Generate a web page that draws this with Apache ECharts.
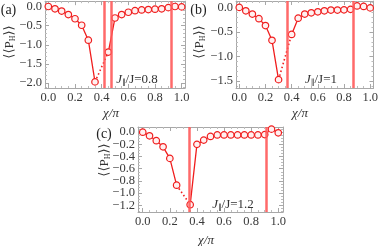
<!DOCTYPE html>
<html><head><meta charset="utf-8">
<script src="https://cdn.jsdelivr.net/npm/echarts@6/dist/echarts.min.js"></script>
<style>html,body{margin:0;padding:0;background:#fff}#c{width:381px;height:246px}</style>
</head><body><div id="c"></div>
<script>
// ---- data ----
const chi = [0,0.05,0.1,0.15,0.2,0.25,0.3,0.35,0.4,0.45,0.5,0.55,0.6,0.65,0.7,0.75,0.8,0.85,0.9,0.95,1.0];
const valuesA = [0,-0.06,-0.12,-0.21,-0.32,-0.49,-0.88,-1.97,null,-1.19,-0.30,-0.21,-0.15,-0.11,-0.09,-0.08,-0.07,-0.06,-0.03,0.0,-0.01];
const valuesB = [0,-0.07,-0.135,-0.23,-0.37,-0.67,-1.47,null,-0.55,-0.22,-0.135,-0.11,-0.09,-0.07,-0.055,-0.055,-0.05,-0.04,0.03,0.02,-0.01];
const valuesC = [0,-0.06,-0.14,-0.24,-0.43,-0.87,null,-1.19,-0.20,-0.13,-0.07,-0.045,-0.045,-0.045,-0.045,-0.045,-0.045,-0.045,-0.04,0.05,-0.01];
const transitionsA = [0.42,0.468,0.92];
const transitionsB = [0.372,0.874];
const transitionsC = [0.337,0.914];
const panelLabels = ['(a)','(b)','(c)'];
const couplings = ['0.8','1','1.2'];
const xTickStep = 0.2;
const yTickSteps = [0.5,0.5,0.2];

// ---- layout / style ----
const panels = [
  {vals:valuesA, tr:transitionsA, grid:{left:45,top:1,width:140,height:87}, xr:[-0.025,1.025], yr:[-2.13,0.14], ysplit:5, yminor:5,
   lab:[8.5,10], ytitle:[10,42], xtitle:[111,114], ann:[137,80]},
  {vals:valuesB, tr:transitionsB, grid:{left:236,top:1,width:139,height:87}, xr:[-0.025,1.025], yr:[-1.64,0.13], ysplit:4, yminor:5,
   lab:[198.5,10], ytitle:[200,42], xtitle:[300,114], ann:[321,80]},
  {vals:valuesC, tr:transitionsC, grid:{left:138,top:127,width:145,height:85}, xr:[-0.035,1.035], yr:[-1.31,0.085], ysplit:7, yminor:4,
   lab:[104,134], ytitle:[105,160], xtitle:[206,241], ann:[233,205]}
];
const RED = '#f01e1e';
const FRAME = '#a8a8a8';
const LABEL = '#3a3a3a';
const SERIF = '"Liberation Serif","DejaVu Serif",serif';
const isMult = (v, s) => Math.abs(v/s - Math.round(v/s)) < 1e-6;
const fmt = v => { const t = (Math.abs(v) < 1e-9 ? 0 : v).toFixed(1); return t.replace('-', '\u2212'); };

const grid = [], xAxis = [], yAxis = [], series = [], graphic = [];
panels.forEach((p, i) => {
  grid.push(Object.assign({containLabel:false}, p.grid));
  const common = {
    type:'value', gridIndex:i,
    axisLine:{show:true, onZero:false, lineStyle:{color:FRAME, width:1}},
    axisTick:{show:true, inside:true, length:4, lineStyle:{color:FRAME}},
    minorTick:{show:true, length:2, lineStyle:{color:'#bdbdbd'}},
    splitLine:{show:false}
  };
  const xa = Object.assign({}, common, {min:p.xr[0], max:p.xr[1], splitNumber:5,
    minorTick:Object.assign({}, common.minorTick, {splitNumber:4})});
  xAxis.push(Object.assign({}, xa, {position:'bottom',
    axisLabel:{margin:3, color:LABEL, fontFamily:SERIF, fontSize:12.5,
      formatter:v => isMult(v, xTickStep) ? fmt(v) : ''}}));
  xAxis.push(Object.assign({}, xa, {position:'top', axisLabel:{show:false}}));
  const ya = Object.assign({}, common, {min:p.yr[0], max:p.yr[1], splitNumber:p.ysplit,
    minorTick:Object.assign({}, common.minorTick, {splitNumber:p.yminor})});
  yAxis.push(Object.assign({}, ya, {position:'left',
    axisLabel:{margin:3, color:LABEL, fontFamily:SERIF, fontSize:12.5,
      formatter:v => isMult(v, yTickSteps[i]) ? fmt(v) : ''}}));
  yAxis.push(Object.assign({}, ya, {position:'right', axisLabel:{show:false}}));

  const data = chi.map((x, k) => [x, p.vals[k] === null ? '-' : p.vals[k]]);
  // dotted connection across missing point
  const dotted = [];
  p.vals.forEach((v, k) => { if (v === null) { dotted.push([chi[k-1], p.vals[k-1]], [chi[k+1], p.vals[k+1]]); } });
  series.push({type:'line', xAxisIndex:2*i, yAxisIndex:2*i, data:dotted, showSymbol:false, symbol:'none',
    lineStyle:{color:RED, width:1.6, type:[1.5,2.5]}, z:2, animation:false, silent:true});
  series.push({type:'line', xAxisIndex:2*i, yAxisIndex:2*i, data, connectNulls:false,
    symbol:'circle', symbolSize:6.5,
    itemStyle:{color:'#fff0f0', borderColor:RED, borderWidth:1.2},
    lineStyle:{color:RED, width:1.3}, z:3, animation:false, silent:true,
    markLine:{silent:true, symbol:['none','none'], label:{show:false},
      lineStyle:{color:'#ff5a5a', width:2.5, type:'solid', opacity:0.9},
      data:p.tr.map(t => ({xAxis:t})), animation:false}});

  graphic.push({type:'text', x:p.lab[0], y:p.lab[1], style:{text:panelLabels[i], font:'14px '+SERIF, fill:'#222', align:'center', verticalAlign:'middle'}});
  graphic.push({type:'text', x:p.ytitle[0], y:p.ytitle[1], rotation:Math.PI/2,
    style:{text:'{n|\u27E8\u27E8P}{s|H}{n|\u27E9\u27E9}', align:'center', verticalAlign:'middle', fill:'#333',
      rich:{n:{font:'13px '+SERIF, fill:'#333'}, s:{font:'8px '+SERIF, fill:'#333', padding:[6,0,0,0]}}}});
  graphic.push({type:'text', x:p.xtitle[0], y:p.xtitle[1],
    style:{text:'\u03C7/\u03C0', font:'italic 13px '+SERIF, fill:'#333', align:'center', verticalAlign:'middle'}});
  graphic.push({type:'text', x:p.ann[0], y:p.ann[1],
    style:{text:'{j|J}{s|\u2225}{n|/J=' + couplings[i] + '}', align:'center', verticalAlign:'middle', fill:'#333',
      rich:{j:{font:'italic 13px '+SERIF, fill:'#333'}, s:{font:'8px '+SERIF, fill:'#333', padding:[6,0,0,0]}, n:{font:'13px '+SERIF, fill:'#333'}}}});
});

const chart = echarts.init(document.getElementById('c'), null, {renderer:'canvas'});
chart.setOption({animation:false, backgroundColor:'#fff', grid, xAxis, yAxis, series, graphic});
</script></body></html>
